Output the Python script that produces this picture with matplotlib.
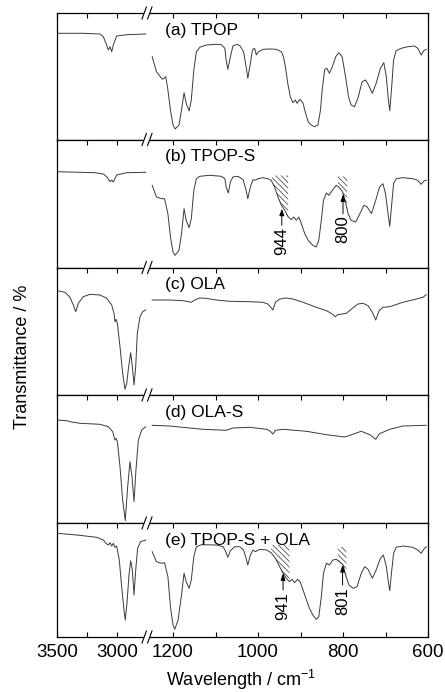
import numpy as np
import matplotlib
matplotlib.use("Agg")
import matplotlib.pyplot as plt

plt.rcParams['font.family'] = ['Liberation Sans', 'DejaVu Sans']
plt.rcParams['mathtext.default'] = 'regular'
plt.rcParams['hatch.linewidth'] = 0.55

# ---- spectra (wavenumber / cm-1, transmittance a.u.) ----
# (a) TPOP
a_left_wn = [3497, 3281, 3142, 3114, 3092, 3072, 3058, 3044, 3031, 3003, 2919, 2761]
a_left_t = [105.2, 105.2, 104.5, 101.8, 95.2, 88.5, 91.8, 86.8, 93.5, 102.5, 103.8, 104.5]
a_right_wn = [1249, 1239, 1227, 1224, 1217, 1212, 1206, 1200, 1195, 1186, 1180, 1174, 1169, 1162,
              1157, 1151, 1145, 1137, 1122, 1098, 1086, 1078, 1075, 1071, 1065, 1059, 1049, 1042,
              1034, 1028, 1024, 1018, 1013, 1008, 1004, 999, 988, 973, 957, 945, 940, 935, 930,
              924, 918, 912, 908, 901, 894, 888, 882, 875, 867, 859, 853, 849, 843, 838, 832,
              825, 817, 810, 802, 794, 787, 781, 773, 765, 755, 747, 740, 731, 722, 712, 704,
              698, 694, 690, 686, 681, 675, 663, 647, 632, 624, 616, 610, 604]
a_right_t = [81.8, 66.8, 60.2, 59.2, 61.8, 48.5, 28.5, 13.5, 9.5, 13.5, 28.5, 45.8, 35.2, 27.5,
             38.5, 68.5, 86.8, 91.2, 93.5, 94.2, 93.8, 90.2, 78.5, 69.2, 81.8, 92.5, 94.2, 92.5,
             86.8, 71.8, 60.2, 75.2, 88.5, 90.2, 83.5, 86.8, 89.2, 89.5, 89.2, 86.8, 81.8, 70.2,
             55.2, 41.8, 35.8, 38.5, 35.2, 39.2, 35.2, 25.2, 16.8, 13.5, 11.8, 13.5, 28.5, 48.5,
             69.2, 70.2, 65.2, 71.8, 81.8, 85.8, 81.8, 61.8, 41.8, 33.5, 31.8, 40.2, 56.8, 58.5,
             53.5, 45.2, 55.2, 70.2, 75.8, 61.8, 41.8, 27.8, 48.5, 78.5, 87.8, 90.2, 91.8, 92.5,
             90.2, 83.5, 87.8, 89.2]

# (b) TPOP-S
b_left_wn = [3497, 3183, 3114, 3081, 3058, 3044, 3031, 3003, 2919, 2761]
b_left_t = [95.8, 94.8, 93.5, 90.2, 85.8, 87.5, 85.5, 92.5, 94.8, 95.2]
b_right_wn = [1249, 1239, 1227, 1220, 1212, 1206, 1200, 1195, 1186, 1180, 1174, 1169, 1162, 1157,
              1151, 1145, 1137, 1114, 1086, 1078, 1075, 1070, 1065, 1059, 1047, 1035, 1028, 1024,
              1018, 1012, 1006, 1000, 988, 977, 969, 961, 953, 945, 937, 930, 922, 916, 910, 904,
              898, 890, 882, 871, 863, 857, 851, 846, 839, 833, 825, 816, 810, 802, 796, 788,
              781, 770, 761, 751, 743, 733, 723, 714, 706, 700, 694, 690, 686, 681, 675, 659,
              636, 624, 616, 610, 604]
b_right_t = [82.2, 70.5, 68.8, 68.8, 53.8, 30.5, 15.5, 12.2, 17.2, 33.8, 58.8, 47.2, 39.8, 48.8,
             77.2, 88.8, 91.2, 92.2, 91.2, 88.8, 80.5, 74.5, 85.5, 90.5, 91.2, 87.8, 77.2, 68.8,
             80.5, 87.8, 87.2, 88.8, 89.8, 88.8, 87.2, 80.5, 70.5, 62.2, 57.2, 51.2, 47.8, 50.5,
             47.2, 50.5, 43.8, 33.8, 27.2, 22.2, 20.5, 27.2, 47.2, 67.2, 74.5, 72.2, 77.2, 82.2,
             80.5, 76.5, 68.8, 53.8, 47.2, 45.5, 53.2, 62.2, 60.5, 53.8, 67.2, 80.5, 83.8, 73.8,
             53.8, 41.2, 60.5, 83.8, 88.8, 89.8, 88.8, 87.2, 83.2, 86.5, 87.2]

# (c) OLA
c_left_wn = [3497, 3433, 3392, 3364, 3344, 3322, 3281, 3225, 3142, 3086, 3044, 3025, 3017, 3008,
             2997, 2975, 2953, 2933, 2919, 2903, 2886, 2872, 2858, 2844, 2831, 2808, 2786, 2761]
c_left_t = [104.3, 102.7, 97.7, 90.0, 83.3, 91.7, 98.3, 100.7, 100.0, 96.7, 90.0, 81.7, 73.3, 75.7,
            71.7, 48.3, 21.7, 5.7, 11.7, 28.3, 42.3, 28.3, 10.0, 28.3, 61.7, 78.3, 83.3, 85.0]
c_right_wn = [1249, 1208, 1176, 1157, 1149, 1137, 1122, 1098, 1067, 1020, 988, 977, 971, 965, 959,
              949, 934, 918, 894, 863, 839, 825, 819, 812, 792, 780, 765, 753, 741, 731, 723,
              715, 706, 690, 659, 627, 612, 604]
c_right_t = [95.0, 95.0, 94.3, 92.7, 95.0, 97.0, 96.7, 95.0, 93.7, 93.3, 92.7, 91.0, 88.3, 85.0,
             92.7, 96.0, 97.0, 96.0, 92.7, 87.7, 84.3, 81.0, 78.3, 80.3, 81.7, 86.0, 91.0, 91.7,
             89.3, 82.7, 75.0, 84.3, 87.7, 88.3, 92.7, 96.0, 97.7, 100.3]

# (d) OLA-S
d_left_wn = [3497, 3419, 3378, 3308, 3142, 3072, 3036, 3017, 3008, 2997, 2975, 2953, 2931, 2911,
             2892, 2875, 2858, 2842, 2822, 2794, 2761]
d_left_t = [103.0, 102.3, 101.0, 99.7, 98.7, 96.3, 91.3, 83.0, 84.7, 81.3, 56.3, 23.0, 2.5, 36.3,
            61.3, 46.3, 21.3, 53.0, 83.0, 93.0, 96.3]
d_right_wn = [1249, 1208, 1161, 1129, 1075, 1059, 1020, 980, 971, 965, 959, 941, 886, 839, 796,
              784, 757, 737, 723, 714, 690, 659, 604]
d_right_t = [97.7, 97.0, 95.0, 93.7, 92.7, 95.0, 95.7, 93.7, 91.7, 89.0, 92.7, 93.7, 91.7, 88.3,
             86.0, 87.7, 91.7, 88.3, 83.7, 89.3, 93.7, 97.0, 97.7]

# (e) TPOP-S + OLA
e_left_wn = [3497, 3336, 3169, 3114, 3092, 3072, 3058, 3044, 3031, 3017, 3003, 2981, 2961, 2942,
             2931, 2917, 2900, 2886, 2872, 2858, 2844, 2828, 2803, 2761]
e_left_t = [103.7, 102.0, 99.7, 97.0, 93.7, 92.0, 94.3, 91.0, 93.7, 89.7, 91.0, 77.0, 50.3, 27.0,
            17.0, 33.7, 62.0, 76.3, 67.0, 42.0, 67.0, 88.7, 95.3, 97.0]
e_right_wn = [1249, 1239, 1227, 1220, 1212, 1206, 1200, 1196, 1188, 1180, 1174, 1169, 1162, 1157,
              1151, 1145, 1133, 1098, 1082, 1076, 1071, 1065, 1055, 1043, 1034, 1028, 1024, 1018,
              1012, 1006, 996, 980, 969, 959, 949, 941, 933, 926, 920, 914, 907, 901, 894, 886,
              879, 871, 863, 857, 851, 846, 839, 832, 824, 816, 808, 800, 794, 786, 776, 767,
              757, 749, 741, 731, 722, 712, 705, 698, 694, 690, 686, 681, 675, 659, 636, 624,
              616, 610, 604]
e_right_t = [85.3, 75.3, 73.7, 74.3, 60.3, 30.3, 12.0, 7.7, 17.0, 42.0, 63.7, 55.3, 48.7, 57.0,
             80.3, 90.3, 92.3, 92.0, 90.3, 85.3, 79.7, 86.3, 90.3, 90.3, 87.0, 78.7, 72.0, 82.0,
             87.0, 85.3, 87.7, 87.0, 84.3, 78.7, 70.3, 63.7, 58.7, 55.3, 57.7, 54.3, 57.7, 55.3,
             47.0, 37.0, 28.7, 22.0, 17.7, 20.3, 40.3, 63.7, 73.7, 72.0, 77.0, 77.7, 75.3, 72.0,
             62.0, 52.0, 48.7, 50.3, 63.7, 70.3, 67.7, 58.7, 67.0, 78.7, 82.0, 70.3, 57.0, 46.3,
             63.7, 83.7, 89.7, 91.0, 89.7, 87.0, 83.7, 87.7, 90.3]

labels = ['(a) TPOP', '(b) TPOP-S', '(c) OLA', '(d) OLA-S', '(e) TPOP-S + OLA']
left_wn = [a_left_wn, b_left_wn, c_left_wn, d_left_wn, e_left_wn]
left_t = [a_left_t, b_left_t, c_left_t, d_left_t, e_left_t]
right_wn = [a_right_wn, b_right_wn, c_right_wn, d_right_wn, e_right_wn]
right_t = [a_right_t, b_right_t, c_right_t, d_right_t, e_right_t]
y_tops = [125.5, 128, 127.5, 128, 114]
y_bottoms = [-1, 0, 0, 0, 0]

# hatched regions: panel index, (low wn, high wn, top level)
hatches = {1: [(929, 967, 92), (790, 812, 91)],
           4: [(926, 969, 92), (792, 812, 90)]}
# marked peaks: panel index, (wn, label, arrow tip, arrow tail)
marks = {1: [(944, '944', 58.8, 42.2), (800, '800', 73.2, 53.8)],
         4: [(941, '941', 63.7, 47.0), (801, '801', 72.0, 52.0)]}

major_ticks = [3500, 3000, 1200, 1000, 800, 600]
minor_ticks = [3250, 1100, 900, 700]


def forward(w):
    w = np.asarray(w, dtype=float)
    left = (3500.0 - w) * 0.12
    right = 90.0 + (1261.2 - w) * 0.425
    return np.where(w >= 2750, left, np.where(w <= 1261.2, right, 90.0))


def inverse(u):
    u = np.asarray(u, dtype=float)
    return np.where(u <= 90, 3500.0 - u / 0.12, 1261.2 - (u - 90.0) / 0.425)


fig = plt.figure(figsize=(4.45, 6.92), dpi=100)
gs = fig.add_gridspec(5, 1, left=57 / 445, right=428 / 445, top=1 - 13 / 692,
                      bottom=1 - 637 / 692, hspace=0, height_ratios=[126.5, 128, 127.5, 128, 114])
line_col = '#3a3a3a'
brk = 90.0 / float(forward(600))

for i in range(5):
    ax = fig.add_subplot(gs[i])
    ax.set_xscale('function', functions=(forward, inverse))
    ax.plot(left_wn[i], left_t[i], color=line_col, lw=0.7)
    ax.plot(right_wn[i], right_t[i], color=line_col, lw=0.7)
    ax.set_xlim(600, 3500)
    ax.set_ylim(y_bottoms[i], y_tops[i])
    ax.set_yticks([])
    ax.set_xticks(major_ticks)
    ax.set_xticks(minor_ticks, minor=True)
    ax.xaxis.set_minor_formatter(plt.NullFormatter())
    last = i == 4
    ax.tick_params(axis='x', which='both', direction='in', length=3.5, width=0.8,
                   top=True, bottom=last, labelbottom=last, labelsize=13.5, pad=5)
    for s in ax.spines.values():
        s.set_linewidth(0.9)

    ax.text(0.291, 1 - 17 / (y_tops[i] - y_bottoms[i]), labels[i], transform=ax.transAxes,
            ha='left', va='center', fontsize=12.5)

    wn_r = np.array(right_wn[i], float)[::-1]
    t_r = np.array(right_t[i], float)[::-1]
    for lo, hi, top in hatches.get(i, []):
        sel = (wn_r > lo) & (wn_r < hi)
        xs = np.concatenate([[lo], wn_r[sel], [hi]])
        ys = np.concatenate([[np.interp(lo, wn_r, t_r)], t_r[sel], [np.interp(hi, wn_r, t_r)]])
        ax.fill_between(xs, ys, top, facecolor='none', edgecolor='#444444',
                        hatch='\\\\\\\\\\\\', linewidth=0)

    for wn, txt, tip, tail in marks.get(i, []):
        ax.annotate('', xy=(wn, tip), xytext=(wn, tail),
                    arrowprops=dict(arrowstyle='-|>,head_length=0.4,head_width=0.14',
                                    color='black', lw=0.7, shrinkA=0, shrinkB=0))
        ax.text(wn, tail - 2, txt, rotation=90, ha='center', va='top', fontsize=12)

    # axis break marks
    hpx = ax.bbox.height
    dx = 2.2 / ax.bbox.width
    gap = 2.8 / ax.bbox.width
    dy = 6.0 / hpx
    ys_brk = [1.0, 0.0] if last else [1.0]
    for yb in ys_brk:
        ax.fill([brk - gap - dx, brk + gap - dx, brk + gap + dx, brk - gap + dx],
                [yb - dy, yb - dy, yb + dy, yb + dy], color='white', transform=ax.transAxes,
                clip_on=False, zorder=5, lw=0)
        for xc in (brk - gap, brk + gap):
            ax.plot([xc - dx, xc + dx], [yb - dy, yb + dy], color='black', lw=0.8,
                    transform=ax.transAxes, clip_on=False, zorder=6)

fig.text(23 / 445, 1 - 357 / 692, 'Transmittance / %', rotation=90, ha='center', va='center',
         fontsize=13)
fig.text(241 / 445, 1 - 686 / 692, 'Wavelength / cm$^{-1}$', ha='center', va='baseline',
         fontsize=13)

fig.savefig('out.png', dpi=100)
